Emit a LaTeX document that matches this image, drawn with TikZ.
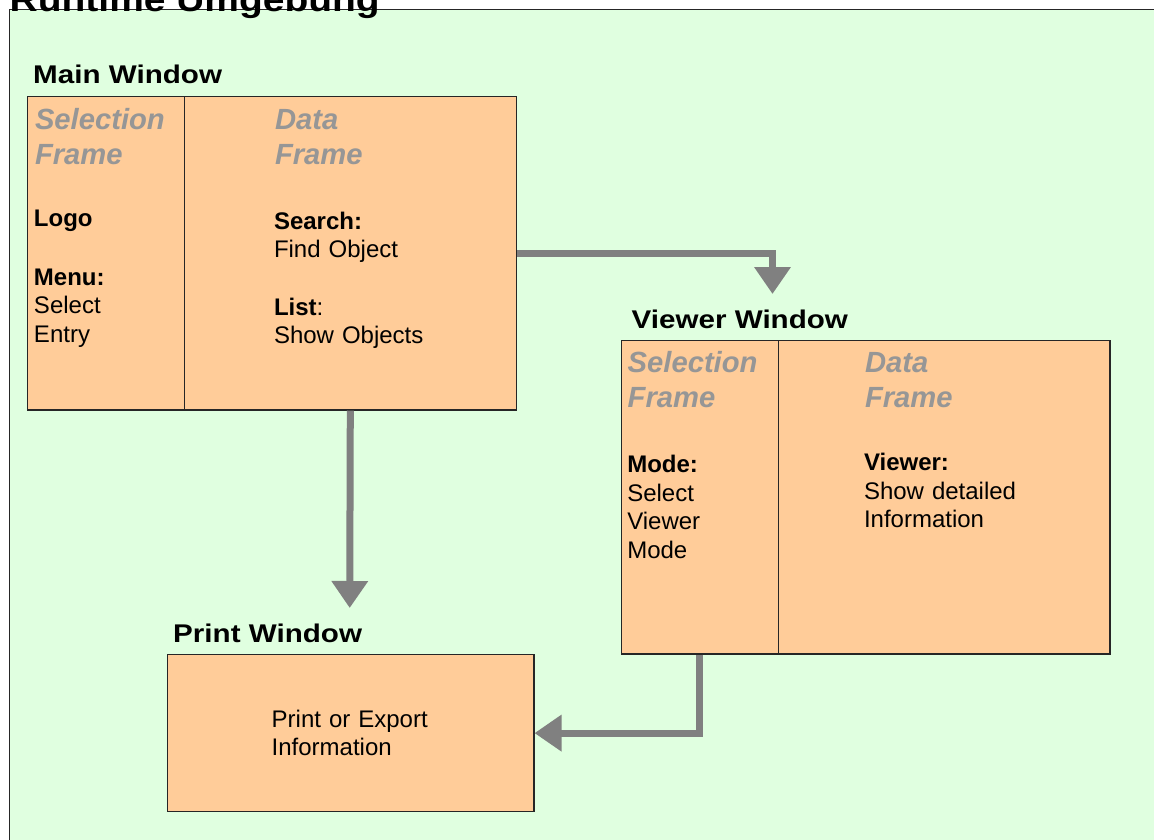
\documentclass[tikz,border=0pt]{standalone}
\usepackage{fontspec}
\setmainfont{Liberation Sans}
\usetikzlibrary{arrows.meta}

\definecolor{envgreen}{RGB}{224,255,224}
\definecolor{winfill}{RGB}{255,204,153}
\definecolor{framegray}{RGB}{150,150,150}
\definecolor{flowgray}{RGB}{128,128,128}

\tikzset{
  envbox/.style={draw=black!85, line width=1.2pt, fill=envgreen, inner sep=0pt, anchor=north west},
  pane/.style={draw=black!85, line width=1.2pt, fill=winfill, inner sep=0pt, anchor=north west},
  txt/.style={anchor=base west, inner sep=0pt, outer sep=0pt, align=left, text width=250pt,
    font=\fontsize{24}{28.5}\selectfont},
  framehead/.style={txt, text=framegray, font=\fontsize{29.2}{34.7}\selectfont\bfseries\itshape},
  wintitle/.style={anchor=base west, inner sep=0pt, xscale=1.156,
    font=\fontsize{25.6}{30}\selectfont\bfseries},
  flow/.style={draw=flowgray, line width=7pt, -{Triangle[width=35pt,length=27pt]}},
}

\begin{document}
\begin{tikzpicture}[x=1pt,y=-1pt]
\useasboundingbox (0,0) rectangle (1154,839);
\clip (0,0) rectangle (1154,839);

% runtime environment
\node[envbox, minimum width=1200pt, minimum height=900pt] (env) at (9,8.5) {};
\node[wintitle, font=\fontsize{33.7}{40}\selectfont\bfseries] (envtitle) at (9.5,11.5) {Runtime Umgebung};

% main window
\node[wintitle] (maintitle) at (33,83.3) {Main Window};
\node[pane, minimum width=157pt, minimum height=313.6pt] (mainsel) at (26.7,95.7) {};
\node[pane, minimum width=332pt, minimum height=313.6pt] (maindata) at (183.7,95.7) {};
\node[framehead] (mainselhead) at (35,129.3) {Selection\\Frame};
\node[txt] (logo) at (34,226.5) {\textbf{Logo}};
\node[txt] (menu) at (34,285) {\textbf{Menu:}\\Select\\Entry};
\node[framehead] (maindatahead) at (275,129.3) {Data\\Frame};
\node[txt] (search) at (274,229.3) {\textbf{Search:}\\Find Object};
\node[txt] (list) at (274,315) {\textbf{List}:\\Show Objects};

% viewer window
\node[wintitle] (viewtitle) at (631.5,328.3) {Viewer Window};
\node[pane, minimum width=157pt, minimum height=313.3pt] (vsel) at (620.7,340) {};
\node[pane, minimum width=331.6pt, minimum height=313.3pt] (vdata) at (777.7,340) {};
\node[framehead] (vselhead) at (627.7,372.7) {Selection\\Frame};
\node[txt] (mode) at (627.3,472.7) {\textbf{Mode:}\\Select\\Viewer\\Mode};
\node[framehead] (vdatahead) at (865,372.7) {Data\\Frame};
\node[txt] (viewer) at (864,470.7) {\textbf{Viewer:}\\Show detailed\\Information};

% print window
\node[wintitle] (printtitle) at (173,642) {Print Window};
\node[pane, minimum width=366.6pt, minimum height=157pt] (print) at (166.7,654) {};
\node[txt] (printtext) at (271.7,727.3) {Print or Export\\Information};

% flow between the windows
\coordinate (viewtip) at (772.5,294);
\coordinate (printtip) at (349.7,608);
\draw[flow] (maindata.east) -| (viewtip);
\draw[flow] (maindata.south) -- (printtip);
\draw[flow] (vsel.south) |- (print.east);
\end{tikzpicture}
\end{document}
